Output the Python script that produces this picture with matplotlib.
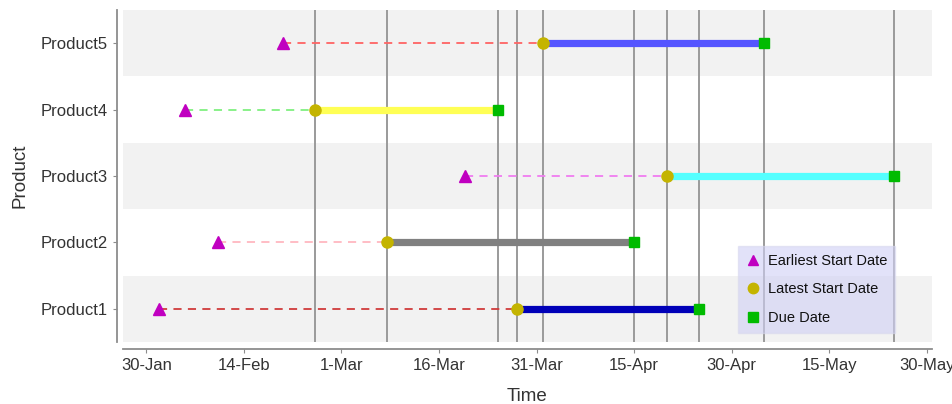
import matplotlib
matplotlib.use('Agg')
import matplotlib.pyplot as plt
import matplotlib.dates as mdates
from matplotlib.lines import Line2D
import pandas as pd

# Schedule per product
products = ['Product1', 'Product2', 'Product3', 'Product4', 'Product5']
earliest_start = ['2013-02-01', '2013-02-10', '2013-03-20', '2013-02-05', '2013-02-20']
latest_start = ['2013-03-28', '2013-03-08', '2013-04-20', '2013-02-25', '2013-04-01']
due_date = ['2013-04-25', '2013-04-15', '2013-05-25', '2013-03-25', '2013-05-05']

dash_colors = ['#d03c3c', '#ffb8c0', '#f07cf0', '#80f080', '#ff6464']
bar_colors = ['#0000b8', '#808080', '#55ffff', '#ffff55', '#5555ff']

tick_dates = pd.date_range('2013-01-30', '2013-05-30', freq='15D')

es = pd.to_datetime(earliest_start)
ls = pd.to_datetime(latest_start)
dd = pd.to_datetime(due_date)

plt.rcParams['font.family'] = ['Liberation Sans', 'DejaVu Sans']

fig = plt.figure(figsize=(9.53, 4.04), dpi=100)
ax = fig.add_axes([123 / 953, 1 - 342 / 404, (932 - 123) / 953, (342 - 10) / 404])

# alternating bands
for i in range(len(products)):
    if i % 2 == 0:
        ax.axhspan(i - 0.5, i + 0.5, color='#f2f2f2', lw=0, zorder=0)

# vertical lines at latest start and due dates
for i in range(len(products)):
    ax.axvline(ls[i], color='#9a9a9a', lw=1.4, zorder=1)
    ax.axvline(dd[i], color='#9a9a9a', lw=1.4, zorder=1)

for i in range(len(products)):
    ax.plot([es[i], ls[i]], [i, i], color=dash_colors[i], lw=1.3,
            linestyle=(0, (4.5, 3.5)), zorder=2)
    ax.plot([ls[i], dd[i]], [i, i], color=bar_colors[i], lw=5.2,
            solid_capstyle='butt', zorder=3)

y = list(range(len(products)))
ax.plot(es, y, '^', color='#c000c0', ms=8, ls='none', zorder=4)
ax.plot(ls, y, 'o', color='#c4b400', ms=8, ls='none', zorder=4)
ax.plot(dd, y, 's', color='#00bb00', ms=7, ls='none', zorder=4)

ax.set_xlim(pd.Timestamp('2013-01-26 10:00'), pd.Timestamp('2013-05-30 19:00'))
ax.set_ylim(-0.5, 4.5)
ax.set_xticks(tick_dates)
ax.xaxis.set_major_formatter(mdates.DateFormatter('%-d-%b'))
ax.set_yticks(y)
ax.set_yticklabels(products)

for s in ['top', 'right']:
    ax.spines[s].set_visible(False)
ax.spines['left'].set_position(('outward', 4.3))
ax.spines['bottom'].set_position(('outward', 5))
for s in ['left', 'bottom']:
    ax.spines[s].set_color('#8c8c8c')
    ax.spines[s].set_linewidth(1.3)
ax.tick_params(axis='both', length=3, color='#8c8c8c', labelsize=12, labelcolor='#333333')

ax.set_xlabel('Time', fontsize=13.5, color='#333333', labelpad=11)
ax.set_ylabel('Product', fontsize=13.5, color='#333333', labelpad=9)

handles = [
    Line2D([], [], marker='^', color='#c000c0', ls='none', ms=7.5),
    Line2D([], [], marker='o', color='#c4b400', ls='none', ms=7.5),
    Line2D([], [], marker='s', color='#00bb00', ls='none', ms=6.5),
]
leg = ax.legend(handles, ['Earliest Start Date', 'Latest Start Date', 'Due Date'],
                loc='lower left', bbox_to_anchor=(0.76, 0.027), fontsize=10.5,
                facecolor='#d0d0f5', framealpha=0.6, edgecolor='#d8d8ee',
                fancybox=False, handletextpad=0.5, borderpad=0.55,
                labelspacing=1.0, handlelength=1.0, borderaxespad=0)
leg.get_frame().set_linewidth(1.0)
for t in leg.get_texts():
    t.set_color('#111111')

fig.savefig('out.png', dpi=100)
